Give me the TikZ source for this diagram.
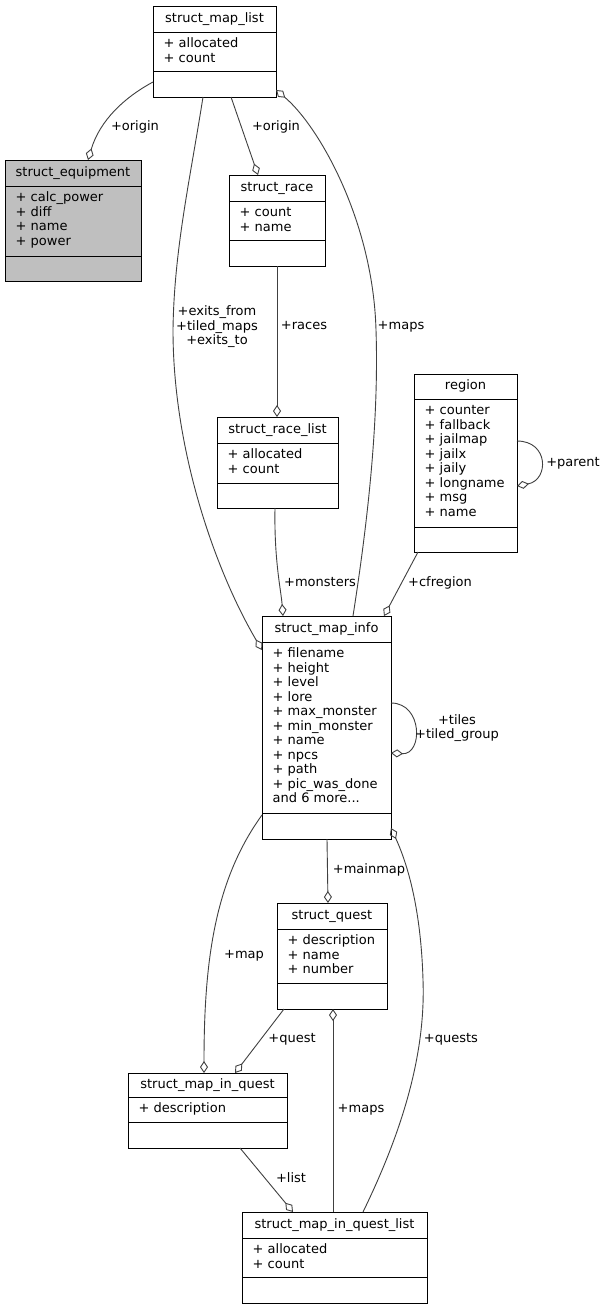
\documentclass[tikz,border=0pt]{standalone}
\usepackage{fontspec}
\setmainfont{DejaVu Sans}
\usetikzlibrary{arrows.meta}
\definecolor{edgecol}{HTML}{404040}
\definecolor{grayfill}{HTML}{BFBFBF}

\newcommand\umlclass[9][white]{%
  \node[classbox, fill=#1, minimum width={(#5-#3)*1pt}, minimum height={(#6-#4)*1pt}, anchor=north west] (#2) at (#3,#4) {};
  \draw[divider] (#3,#7) -- (#5,#7);
  \draw[divider] (#3,#8) -- (#5,#8);
  \node[titletext] (#2-title) at ({(#3+#5)/2},{(#4+#7)/2}) {#9};
}
\newcommand\umlattrs[4]{%
  \foreach \a [count=\i] in {#4}
    \node[attrtext] (#1-a\i) at ({#2+10.5},{#3+15.5+(\i-1)*14.5}) {\a};
}
\newcommand\moredots{and 6 more...}

\begin{document}
\begin{tikzpicture}[x=1pt,y=-1pt,
  font=\fontsize{13}{14.5}\selectfont,
  classbox/.style={draw=black, line width=1pt, inner sep=0pt, outer sep=0pt},
  divider/.style={draw=black, line width=1pt},
  titletext/.style={inner sep=0pt, text height=9.5pt, text depth=3pt},
  attrtext/.style={inner sep=0pt, anchor=base west},
  edge/.style={draw=edgecol, line width=0.9pt, -{Diamond[open, length=12pt, width=8pt]}},
  lbl/.style={inner sep=0pt, text height=9.5pt, text depth=2.5pt},
  mlbl/.style={inner sep=0pt, align=center}
]
\useasboundingbox (0,0) rectangle (603,1309);
\fill[white] (0,0) rectangle (603,1309);

% classes
\umlclass{mapl}{153}{6}{276}{97}{32}{71}{struct\_map\_list}
\umlattrs{mapl}{153}{32}{+ allocated,+ count}
\umlclass[grayfill]{equip}{5}{160}{141}{281}{186}{256}{struct\_equipment}
\umlattrs{equip}{5}{186}{+ calc\_power,+ diff,+ name,+ power}
\umlclass{race}{229}{175}{325}{266}{201}{240}{struct\_race}
\umlattrs{race}{229}{201}{+ count,+ name}
\umlclass{racel}{217}{417}{338}{508}{443}{483}{struct\_race\_list}
\umlattrs{racel}{217}{443}{+ allocated,+ count}
\umlclass{region}{414}{374}{517}{552}{399}{527}{region}
\umlattrs{region}{414}{399}{+ counter,+ fallback,+ jailmap,+ jailx,+ jaily,+ longname,+ msg,+ name}
\umlclass{minfo}{262}{616}{391}{839}{642}{813}{struct\_map\_info}
\umlattrs{minfo}{262}{642}{+ filename,+ height,+ level,+ lore,+ max\_monster,+ min\_monster,+ name,+ npcs,+ path,+ pic\_was\_done,\moredots}
\umlclass{quest}{277}{903}{387}{1009}{929}{983}{struct\_quest}
\umlattrs{quest}{277}{929}{+ description,+ name,+ number}
\umlclass{miq}{128}{1073}{287}{1148}{1097}{1122}{struct\_map\_in\_quest}
\umlattrs{miq}{128}{1097}{+ description}
\umlclass{miql}{242}{1212}{427}{1303}{1238}{1277}{struct\_map\_in\_quest\_list}
\umlattrs{miql}{242}{1238}{+ allocated,+ count}

% connectors
\draw[edge] ([shift={(0,76)}]mapl.north west) .. controls (125,97) and (100,120) .. ([shift={(83,0)}]equip.north west);
\draw[edge] ([shift={(78,91)}]mapl.north west) -- ([shift={(29,0)}]race.north west);
\draw[edge] ([shift={(50,91)}]mapl.north west) .. controls (190,180) and (174,250) .. (173,330) .. controls (173,450) and (215,570) .. ([shift={(0,34)}]minfo.north west);
\draw[edge] ([shift={(91,0)}]minfo.north west) .. controls (368,520) and (379,420) .. (376,330) .. controls (373,220) and (318,125) .. ([shift={(123,84)}]mapl.north west);
\draw[edge] ([shift={(48,91)}]race.north west) -- ([shift={(60,0)}]racel.north west);
\draw[edge] ([shift={(58,91)}]racel.north west) .. controls (274,560) and (281,590) .. ([shift={(21,0)}]minfo.north west);
\draw[edge] ([shift={(4,178)}]region.north west) -- ([shift={(122,0)}]minfo.north west);
\draw[edge] ([shift={(103,67)}]region.north west) .. controls (549,441) and (549,480) .. ([shift={(103,112)}]region.north west);
\draw[edge] ([shift={(129,87)}]minfo.north west) .. controls (423,703) and (423,755) .. ([shift={(129,137)}]minfo.north west);
\draw[edge] ([shift={(65,223)}]minfo.north west) -- ([shift={(51,0)}]quest.north west);
\draw[edge] ([shift={(0,199)}]minfo.north west) .. controls (215,880) and (204,960) .. ([shift={(76,0)}]miq.north west);
\draw[edge] ([shift={(121,0)}]miql.north west) .. controls (398,1140) and (426,1060) .. (423,980) .. controls (421,910) and (408,865) .. ([shift={(129,212)}]minfo.north west);
\draw[edge] ([shift={(7,106)}]quest.north west) -- ([shift={(107,0)}]miq.north west);
\draw[edge] ([shift={(91,0)}]miql.north west) -- ([shift={(56,106)}]quest.north west);
\draw[edge] ([shift={(112,75)}]miq.north west) -- ([shift={(51,0)}]miql.north west);

% labels
\node[lbl] (lorigin1) at (135,127) {+origin};
\node[lbl] (lorigin2) at (276,127) {+origin};
\node[mlbl] (lexits) at (217,327) {+exits\_from\\+tiled\_maps\\+exits\_to};
\node[lbl] (lraces) at (304,326) {+races};
\node[lbl] (lmaps1) at (401,326) {+maps};
\node[lbl] (lmonsters) at (320,583) {+monsters};
\node[lbl] (lcfregion) at (440,583) {+cfregion};
\node[lbl] (lparent) at (573,463) {+parent};
\node[mlbl] (ltiles) at (457,728) {+tiles\\+tiled\_group};
\node[lbl] (lmainmap) at (369,870) {+mainmap};
\node[lbl] (lmap) at (244,955) {+map};
\node[lbl] (lquest) at (292,1039) {+quest};
\node[lbl] (lquests) at (451,1039) {+quests};
\node[lbl] (lmaps2) at (361,1109) {+maps};
\node[lbl] (llist) at (291,1179) {+list};
\end{tikzpicture}
\end{document}
